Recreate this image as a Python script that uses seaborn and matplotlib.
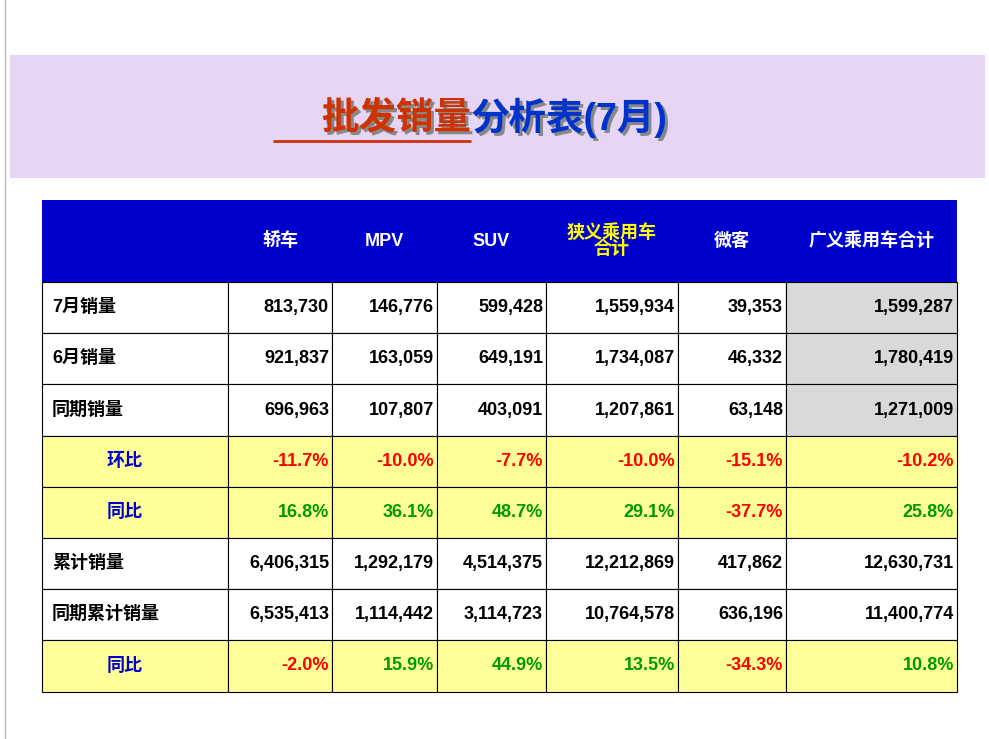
import matplotlib.pyplot as plt
import matplotlib.patches as patches
import seaborn as sns

sns.set_theme(style="white")
plt.rcParams["font.family"] = ["Liberation Sans", "Noto Sans CJK JP", "Noto Sans CJK SC", "DejaVu Sans"]

# data
columns = ["轿车", "MPV", "SUV", "狭义乘用车\n合计", "微客", "广义乘用车合计"]
row_labels = ["7月销量", "6月销量", "同期销量", "环比", "同比", "累计销量", "同期累计销量", "同比"]
sales_jul = [813730, 146776, 599428, 1559934, 39353, 1599287]
sales_jun = [921837, 163059, 649191, 1734087, 46332, 1780419]
sales_prev = [696963, 107807, 403091, 1207861, 63148, 1271009]
mom = [-11.7, -10.0, -7.7, -10.0, -15.1, -10.2]
yoy = [16.8, 36.1, 48.7, 29.1, -37.7, 25.8]
cum = [6406315, 1292179, 4514375, 12212869, 417862, 12630731]
cum_prev = [6535413, 1114442, 3114723, 10764578, 636196, 11400774]
cum_yoy = [-2.0, 15.9, 44.9, 13.5, -34.3, 10.8]

rows = [sales_jul, sales_jun, sales_prev, mom, yoy, cum, cum_prev, cum_yoy]
pct_rows = {3, 4, 7}

fig = plt.figure(figsize=(9.89, 7.39), dpi=100)
ax = fig.add_axes([0, 0, 1, 1])
ax.set_xlim(0, 989)
ax.set_ylim(739, 0)
ax.axis("off")

# left border line and title band
ax.plot([5, 5], [0, 739], color="#bbbbbb", lw=1)
ax.add_patch(patches.Rectangle((10, 55), 975, 123, color="#E6D5F5", lw=0))
ax.text(474, 121, "批发销量", color="#888888", fontsize=27, fontweight="bold", ha="right", va="center")
ax.text(471, 118, "批发销量", color="#CC3300", fontsize=27, fontweight="bold", ha="right", va="center")
ax.plot([274, 470], [141, 141], color="#CC3300", lw=2)
ax.text(475, 121, "分析表(7月)", color="#888888", fontsize=27, fontweight="bold", ha="left", va="center")
ax.text(472, 118, "分析表(7月)", color="#0033CC", fontsize=27, fontweight="bold", ha="left", va="center")

xs = [42, 228, 332, 437, 546, 678, 786, 957]
ys = [200, 282, 333, 384, 436, 487, 538, 589, 640, 692]

# header
ax.add_patch(patches.Rectangle((xs[0], ys[0]), xs[-1] - xs[0], ys[1] - ys[0], color="#0000CC", lw=0))
for j, name in enumerate(columns):
    cx = (xs[j + 1] + xs[j + 2]) / 2
    col = "#FFFF00" if j == 3 else "white"
    ax.text(cx, (ys[0] + ys[1]) / 2, name, color=col, fontsize=13, fontweight="bold",
            ha="center", va="center", linespacing=1.0)

for i, (label, vals) in enumerate(zip(row_labels, rows)):
    y0, y1 = ys[i + 1], ys[i + 2]
    cy = (y0 + y1) / 2
    is_pct = i in pct_rows
    for j in range(7):
        if is_pct:
            fc = "#FFFF99"
        elif j == 6 and i < 3:
            fc = "#D9D9D9"
        else:
            fc = "white"
        ax.add_patch(patches.Rectangle((xs[j], y0), xs[j + 1] - xs[j], y1 - y0, fc=fc, ec="black", lw=0.8))
    if is_pct:
        ax.text((xs[0] + xs[1]) / 2 - 10, cy, label, color="#0000CC", fontsize=13, fontweight="bold", ha="center", va="center")
    else:
        ax.text(xs[0] + 10, cy, label, color="black", fontsize=13, fontweight="bold", ha="left", va="center")
    for j, v in enumerate(vals):
        if is_pct:
            txt = f"{v:.1f}%"
            col = "#FF0000" if v < 0 else "#009900"
        else:
            txt = f"{v:,}"
            col = "black"
        ax.text(xs[j + 2] - 3, cy, txt, color=col, fontsize=13, fontweight="bold", ha="right", va="center")

fig.savefig("out.png", dpi=100, facecolor="white")
